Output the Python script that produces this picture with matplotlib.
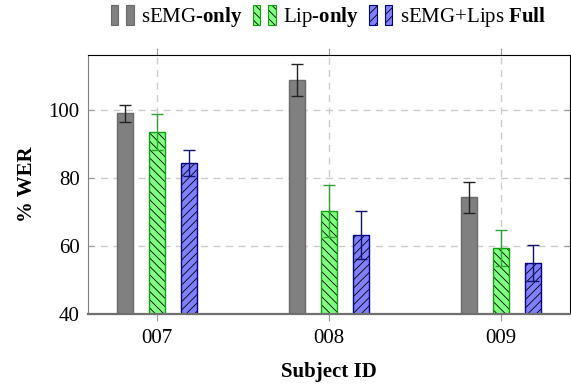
import matplotlib
matplotlib.use("Agg")
import matplotlib.pyplot as plt
import numpy as np
from matplotlib.patches import Rectangle

plt.rcParams['font.family'] = ['Liberation Serif', 'DejaVu Serif']
plt.rcParams['mathtext.fontset'] = 'custom'
plt.rcParams['mathtext.rm'] = 'Liberation Serif'
plt.rcParams['mathtext.bf'] = 'Liberation Serif:bold'
plt.rcParams['hatch.linewidth'] = 0.6

# données
subjects = ['007', '008', '009']
semg = [98.9, 108.8, 74.2]
semg_err = [2.5, 4.7, 4.6]
lip = [93.4, 70.2, 59.3]
lip_err = [5.2, 7.7, 5.3]
full = [84.3, 63.2, 54.9]
full_err = [3.7, 7.1, 5.3]
labels = [r'sEMG-$\mathbf{only}$', r'Lip-$\mathbf{only}$', r'sEMG+Lips $\mathbf{Full}$']

# style des séries : (face, bord, hachures, couleur barres d'erreur)
styles = [('#808080', '#6a6a6a', None, '#222222'),
          ('#80ff80', '#10a010', '\\\\\\\\', '#30a030'),
          ('#8080ff', '#000080', '////', '#101070')]


class DeuxBarres:
    """poignée de légende : deux petits rectangles façon pgfplots"""
    def __init__(self, fc, ec, hatch):
        self.fc, self.ec, self.hatch = fc, ec, hatch

    def legend_artist(self, legend, orig_handle, fontsize, handlebox):
        x0, y0 = -handlebox.xdescent, -handlebox.ydescent
        wd, ht = handlebox.width, handlebox.height
        bw = wd*0.32
        tr = handlebox.get_transform()
        for bx in (x0, x0 + wd - bw):
            handlebox.add_artist(Rectangle((bx, y0), bw, ht, facecolor=self.fc,
                                           linewidth=0, transform=tr))
            if self.hatch:
                handlebox.add_artist(Rectangle((bx, y0), bw, ht, facecolor='none',
                                               edgecolor='black', hatch=self.hatch,
                                               linewidth=0, transform=tr))
            handlebox.add_artist(Rectangle((bx, y0), bw, ht, facecolor='none',
                                           edgecolor=self.ec, linewidth=0.8,
                                           transform=tr))
        return handlebox


x = np.arange(len(subjects))
w, off = 0.093, 0.186

fig = plt.figure(figsize=(5.71, 3.90), dpi=100)
ax = fig.add_axes([88/571, 1-314/390, 482/571, 259/390])

series = [(semg, semg_err), (lip, lip_err), (full, full_err)]
handles, hmap = [], {}
for i, ((vals, errs), (fc, ec, hatch, erc)) in enumerate(zip(series, styles)):
    pos = x + (i-1)*off
    ax.bar(pos, np.array(vals)-40, w, bottom=40, color=fc, linewidth=0, zorder=2)
    if hatch:
        ax.bar(pos, np.array(vals)-40, w, bottom=40, color='none', edgecolor='black',
               hatch=hatch, linewidth=0, zorder=3)
    ax.bar(pos, np.array(vals)-40, w, bottom=40, color='none', edgecolor=ec,
           linewidth=1.0, zorder=4)
    ax.errorbar(pos, vals, yerr=errs, fmt='none', ecolor=erc, elinewidth=1.0,
                capsize=4, capthick=1.0, zorder=5)
    h = Rectangle((0, 0), 1, 1)
    handles.append(h)
    hmap[h] = DeuxBarres(fc, ec, hatch)

ax.set_xlim(-0.4, 2.4)
ax.set_ylim(40, 116)
ax.set_xticks(x)
ax.set_xticklabels(subjects)
ax.set_yticks([40, 60, 80, 100])
ax.tick_params(axis='x', direction='out', length=5, color='#999999', top=True,
               labelsize=15, pad=6)
ax.tick_params(axis='y', direction='in', length=4, color='#999999', right=True,
               labelsize=15, pad=6)
ax.grid(True, ls=(0, (5, 4)), color='#cccccc', lw=1.0, zorder=0)
ax.set_axisbelow(True)

ax.spines['top'].set_color('black')
ax.spines['right'].set_color('black')
ax.spines['top'].set_linewidth(0.8)
ax.spines['right'].set_linewidth(0.8)
ax.spines['left'].set_color('#808080')
ax.spines['bottom'].set_color('#707070')
ax.spines['bottom'].set_linewidth(1.6)
ax.spines['bottom'].set_zorder(6)

ax.set_ylabel('% WER', fontsize=15, fontweight='bold', labelpad=8)
ax.set_xlabel('Subject ID', fontsize=15, fontweight='bold', labelpad=10)

ax.legend(handles, labels, loc='center', bbox_to_anchor=(0.575, 1-17/390),
          bbox_transform=fig.transFigure, ncol=3, frameon=False, fontsize=15,
          handler_map=hmap, handlelength=1.1, handleheight=1.05,
          handletextpad=0.35, columnspacing=0.5, borderpad=0)

fig.savefig('out.png', dpi=100)
